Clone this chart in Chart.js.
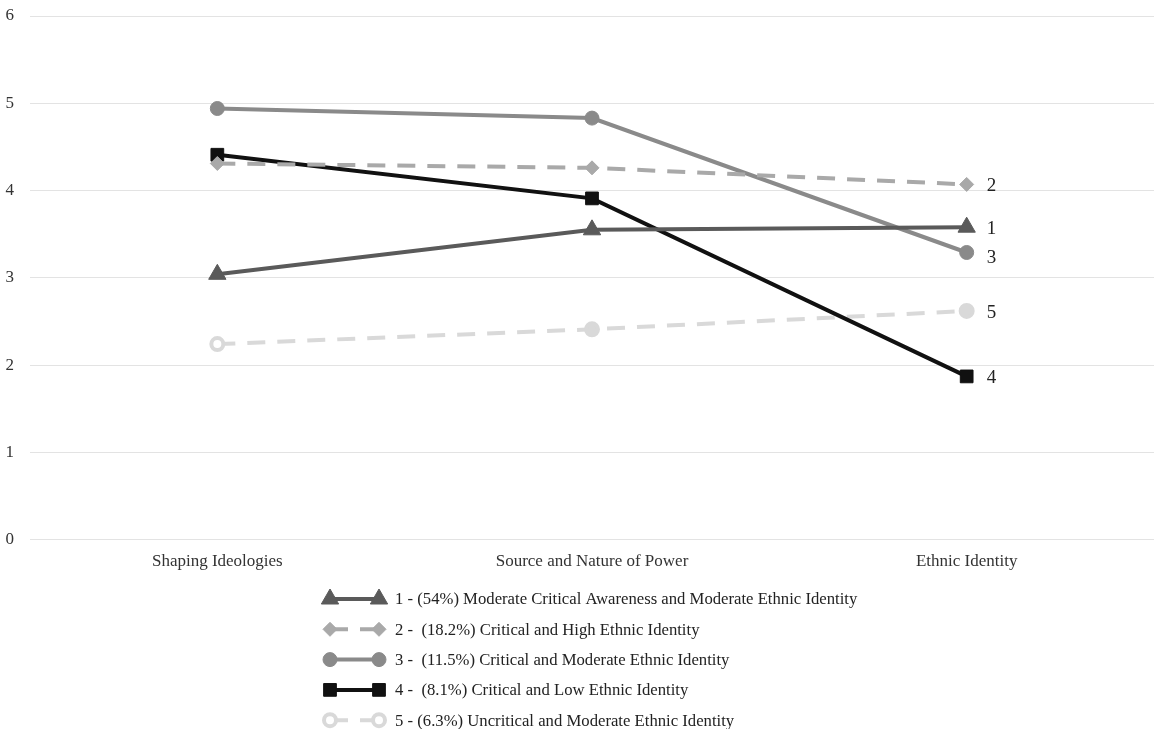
<!DOCTYPE html>
<html>
<head>
<meta charset="utf-8">
<script src="https://cdn.jsdelivr.net/npm/chart.js@4"></script>
<style>
  html, body { margin: 0; padding: 0; background: #fff; }
  .chart-container { width: 1159px; height: 729px; }
</style>
</head>
<body>
<div class="chart-container">
  <canvas id="chart" width="1159" height="729"></canvas>
</div>
<script>
const categories = ['Shaping Ideologies', 'Source and Nature of Power', 'Ethnic Identity'];
const yTicks = [0, 1, 2, 3, 4, 5, 6];

const series1 = [3.04, 3.55, 3.58]; // Moderate critical awareness
const series2 = [4.31, 4.26, 4.07]; // Critical and high ethnic identity
const series3 = [4.94, 4.83, 3.29]; // Critical and moderate ethnic identity
const series4 = [4.41, 3.91, 1.87]; // Critical and low ethnic identity
const series5 = [2.24, 2.41, 2.62]; // Uncritical and moderate ethnic identity

const endLabels = ['1', '2', '3', '4', '5'];
const legendLabels = [
  '1 - (54%) Moderate Critical Awareness and Moderate Ethnic Identity',
  '2 -  (18.2%) Critical and High Ethnic Identity',
  '3 -  (11.5%) Critical and Moderate Ethnic Identity',
  '4 -  (8.1%) Critical and Low Ethnic Identity',
  '5 - (6.3%) Uncritical and Moderate Ethnic Identity'
];

const serif = '"Liberation Serif", "Times New Roman", serif';

// labels next to the last point of each line
const endLabelPlugin = {
  id: 'endLabels',
  afterDatasetsDraw(chart) {
    const ctx = chart.ctx;
    ctx.save();
    ctx.font = '19px ' + serif;
    ctx.fillStyle = '#222';
    ctx.textBaseline = 'middle';
    chart.data.datasets.forEach((ds, i) => {
      const meta = chart.getDatasetMeta(i);
      const pt = meta.data[meta.data.length - 1];
      const dy = i === 2 ? 6 : 2;
      ctx.fillText(endLabels[i], pt.x + 20, pt.y + dy);
    });
    ctx.restore();
  }
};

// vertical legend under the axis
const legendPlugin = {
  id: 'stackLegend',
  afterDraw(chart) {
    const ctx = chart.ctx;
    const x0 = 330, x1 = 379, top = 599, step = 30.3;
    ctx.save();
    chart.data.datasets.forEach((ds, i) => {
      const y = top + i * step;
      ctx.beginPath();
      ctx.strokeStyle = ds.borderColor;
      ctx.lineWidth = ds.borderWidth;
      ctx.setLineDash(ds.borderDash || []);
      ctx.moveTo(x0, y);
      ctx.lineTo(x1, y);
      ctx.stroke();
      ctx.setLineDash([]);
      [x0, x1].forEach((px) => {
        const fill = Array.isArray(ds.pointBackgroundColor) ? ds.pointBackgroundColor[0] : ds.pointBackgroundColor;
        ctx.fillStyle = fill;
        ctx.strokeStyle = ds.borderColor;
        ctx.lineWidth = ds.pointBorderWidth || 1;
        Chart.helpers.drawPoint(ctx, {
          pointStyle: ds.pointStyle,
          radius: ds.pointRadius,
          borderWidth: ds.pointBorderWidth || 1,
          rotation: 0
        }, px, y);
      });
      ctx.font = '16.7px ' + serif;
      ctx.fillStyle = '#222';
      ctx.textBaseline = 'middle';
      ctx.fillText(legendLabels[i], 395, y + 1);
    });
    ctx.restore();
  }
};

const ctx = document.getElementById('chart').getContext('2d');
new Chart(ctx, {
  type: 'line',
  data: {
    labels: categories,
    datasets: [
      {
        label: legendLabels[0], data: series1,
        borderColor: '#5a5a5a', backgroundColor: '#5a5a5a', pointBackgroundColor: '#5a5a5a',
        borderWidth: 4, pointStyle: 'triangle', pointRadius: 10, pointBorderWidth: 1
      },
      {
        label: legendLabels[1], data: series2,
        borderColor: '#a9a9a9', backgroundColor: '#a9a9a9', pointBackgroundColor: '#a9a9a9',
        borderWidth: 4, borderDash: [18, 12], pointStyle: 'rectRot', pointRadius: 7, pointBorderWidth: 1
      },
      {
        label: legendLabels[2], data: series3,
        borderColor: '#8a8a8a', backgroundColor: '#8a8a8a', pointBackgroundColor: '#8a8a8a',
        borderWidth: 4, pointStyle: 'circle', pointRadius: 7, pointBorderWidth: 1
      },
      {
        label: legendLabels[3], data: series4,
        borderColor: '#111111', backgroundColor: '#111111', pointBackgroundColor: '#111111',
        borderWidth: 4, pointStyle: 'rect', pointRadius: 9, pointBorderWidth: 1
      },
      {
        label: legendLabels[4], data: series5,
        borderColor: '#d9d9d9', backgroundColor: '#d9d9d9', pointBackgroundColor: ['#ffffff', '#d9d9d9', '#d9d9d9'],
        borderWidth: 4, borderDash: [18, 12], pointStyle: 'circle', pointRadius: 6, pointBorderWidth: 4
      }
    ]
  },
  options: {
    responsive: false,
    animation: false,
    layout: { autoPadding: false, padding: { top: 16, right: 5, bottom: 153, left: 0 } },
    plugins: {
      legend: { display: false },
      tooltip: { enabled: false }
    },
    scales: {
      x: {
        offset: true,
        grid: { display: false },
        border: { display: false },
        ticks: { color: '#333', font: { family: serif, size: 17 }, padding: 4 }
      },
      y: {
        min: 0, max: 6,
        afterBuildTicks(scale) { scale.ticks = yTicks.map(v => ({ value: v })); },
        afterFit(scale) {
          scale.width = 30;
          scale.paddingTop = 0;
          scale.paddingBottom = 0;
        },
        grid: { color: '#e3e3e3', lineWidth: 1, drawTicks: false },
        border: { display: false },
        ticks: { color: '#333', font: { family: serif, size: 17 }, padding: 16 }
      }
    }
  },
  plugins: [endLabelPlugin, legendPlugin]
});
</script>
</body>
</html>
